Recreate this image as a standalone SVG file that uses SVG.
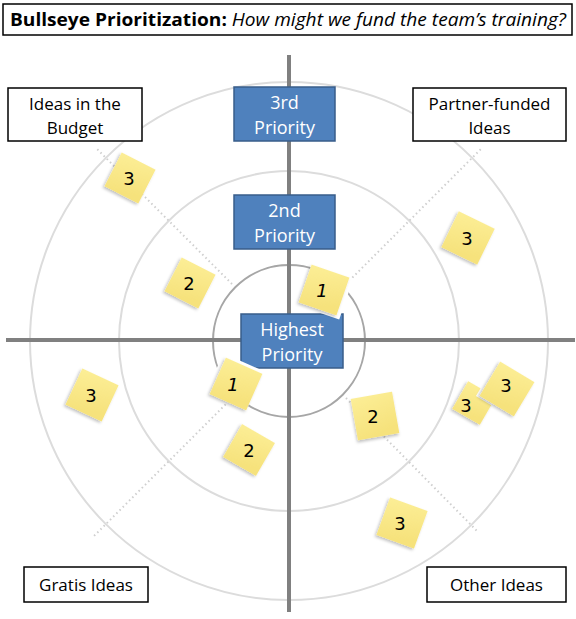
<svg xmlns="http://www.w3.org/2000/svg" width="576" height="619" viewBox="0 0 576 619">
<style>
.box{fill:#fff;stroke:#000;stroke-width:1.5}
.lbl{font-family:"Open Sans","Liberation Sans",sans-serif;font-size:17px;fill:#000;text-anchor:middle}
.pri{fill:#4F81BD;stroke:#385D8A;stroke-width:1.5}
.ptx{font-family:"Open Sans","Liberation Sans",sans-serif;font-size:18px;fill:#fff;text-anchor:middle}
.ring{fill:none;stroke:#DCDCDC;stroke-width:2}
.inner{fill:none;stroke:#A6A6A6;stroke-width:2}
.axis{stroke:#808080;stroke-width:4}
.diag{stroke:#CFCFCF;stroke-width:2;stroke-dasharray:1.5 3}
.note{fill:url(#ng);filter:url(#sh)}
.halo{fill:#fff}
.num{font-family:"DejaVu Sans","Liberation Sans",sans-serif;font-size:18px;fill:#000;text-anchor:middle}
</style>
<defs>
<linearGradient id="ng" x1="0" y1="0" x2="0.3" y2="1">
<stop offset="0" stop-color="#FCEE96"/>
<stop offset="1" stop-color="#F6E27C"/>
</linearGradient>
<filter id="sh" x="-20%" y="-20%" width="150%" height="150%">
<feDropShadow dx="-1" dy="2" stdDeviation="1.5" flood-color="#000" flood-opacity="0.25"/>
</filter>
</defs>
<rect width="576" height="619" fill="#fff"/>

<g id="target">
<circle class="ring" cx="289" cy="341" r="259"/>
<circle class="ring" cx="289" cy="341" r="170"/>
<circle class="inner" cx="289" cy="341" r="76"/>
<line class="diag" x1="232" y1="284" x2="97" y2="149"/>
<line class="diag" x1="346" y1="284" x2="481" y2="149"/>
<line class="diag" x1="232" y1="398" x2="92" y2="538"/>
<line class="diag" x1="346" y1="398" x2="478" y2="532"/>
</g>

<g id="connectors">
<line class="axis" x1="289" y1="55" x2="289" y2="612"/>
<line class="axis" x1="6" y1="340" x2="575" y2="340"/>
</g>

<g id="title">
<rect class="box" x="3" y="4" width="569" height="31"/>
<text x="10" y="26" font-family="'Open Sans','Liberation Sans',sans-serif" font-size="17.5" textLength="556" lengthAdjust="spacingAndGlyphs"><tspan font-weight="bold">Bullseye Prioritization:</tspan><tspan font-style="italic"> How might we fund the team’s training?</tspan></text>
</g>

<g id="budget">
<rect class="box" x="8" y="88" width="134" height="53"/>
<text class="lbl" x="75" y="110">Ideas in the</text>
<text class="lbl" x="75" y="134">Budget</text>
</g>
<g id="partner">
<rect class="box" x="413" y="88" width="153" height="53"/>
<text class="lbl" x="489.5" y="110">Partner-funded</text>
<text class="lbl" x="489.5" y="134">Ideas</text>
</g>
<g id="gratis">
<rect class="box" x="24" y="567" width="124" height="35"/>
<text class="lbl" x="86" y="591">Gratis Ideas</text>
</g>
<g id="other">
<rect class="box" x="427" y="567" width="139" height="35"/>
<text class="lbl" x="496.5" y="591">Other Ideas</text>
</g>

<g id="p3">
<rect class="pri" x="234" y="87" width="101" height="54"/>
<text class="ptx" x="284.5" y="109">3rd</text>
<text class="ptx" x="284.5" y="134">Priority</text>
</g>
<g id="p2">
<rect class="pri" x="234" y="195" width="101" height="54"/>
<text class="ptx" x="284.5" y="217">2nd</text>
<text class="ptx" x="284.5" y="242">Priority</text>
</g>
<g id="p1">
<rect class="pri" x="241" y="314" width="102" height="54"/>
<text class="ptx" x="292" y="336">Highest</text>
<text class="ptx" x="292" y="361">Priority</text>
</g>

<g id="n3a" transform="translate(130,178) rotate(27)"><rect class="note" x="-19" y="-19" width="38" height="38"/></g>
<text class="num" x="129" y="185">3</text>
<g id="n2a" transform="translate(190,283) rotate(27)"><rect class="note" x="-19" y="-19" width="38" height="38"/></g>
<text class="num" x="189" y="290">2</text>
<g id="n3b" transform="translate(468,238) rotate(26)"><rect class="note" x="-20" y="-20" width="40" height="40"/></g>
<text class="num" x="467" y="245">3</text>
<g id="n1a" transform="translate(324,290) rotate(19)"><rect class="halo" x="-20" y="-20" width="44" height="43"/><rect class="note" x="-20" y="-20" width="40" height="40"/></g>
<text class="num" x="322" y="297" font-style="italic">1</text>
<g id="n3c" transform="translate(92,395) rotate(25)"><rect class="note" x="-20" y="-20" width="40" height="40"/></g>
<text class="num" x="91" y="402">3</text>
<g id="n1b" transform="translate(236,384) rotate(24)"><rect class="halo" x="-24" y="-23" width="44" height="43"/><rect class="note" x="-20" y="-20" width="40" height="40"/></g>
<text class="num" x="233" y="391" font-style="italic">1</text>
<g id="n2b" transform="translate(249,450) rotate(30)"><rect class="note" x="-19" y="-19" width="38" height="38"/></g>
<text class="num" x="249" y="457">2</text>
<g id="n2c" transform="translate(375,416) rotate(-10)"><rect class="note" x="-21" y="-21" width="42" height="42"/></g>
<text class="num" x="373" y="423">2</text>
<g id="n3d" transform="translate(474,403) rotate(30)"><rect class="note" x="-16" y="-16" width="32" height="32"/></g>
<text class="num" x="466" y="412">3</text>
<g id="n3e" transform="translate(507,389) rotate(31)"><rect class="halo" x="-23" y="-22" width="45" height="44"/><rect class="note" x="-20" y="-20" width="40" height="40"/></g>
<text class="num" x="506" y="392">3</text>
<g id="n3f" transform="translate(402,523) rotate(20)"><rect class="note" x="-20" y="-20" width="40" height="40"/></g>
<text class="num" x="400" y="530">3</text>
</svg>
